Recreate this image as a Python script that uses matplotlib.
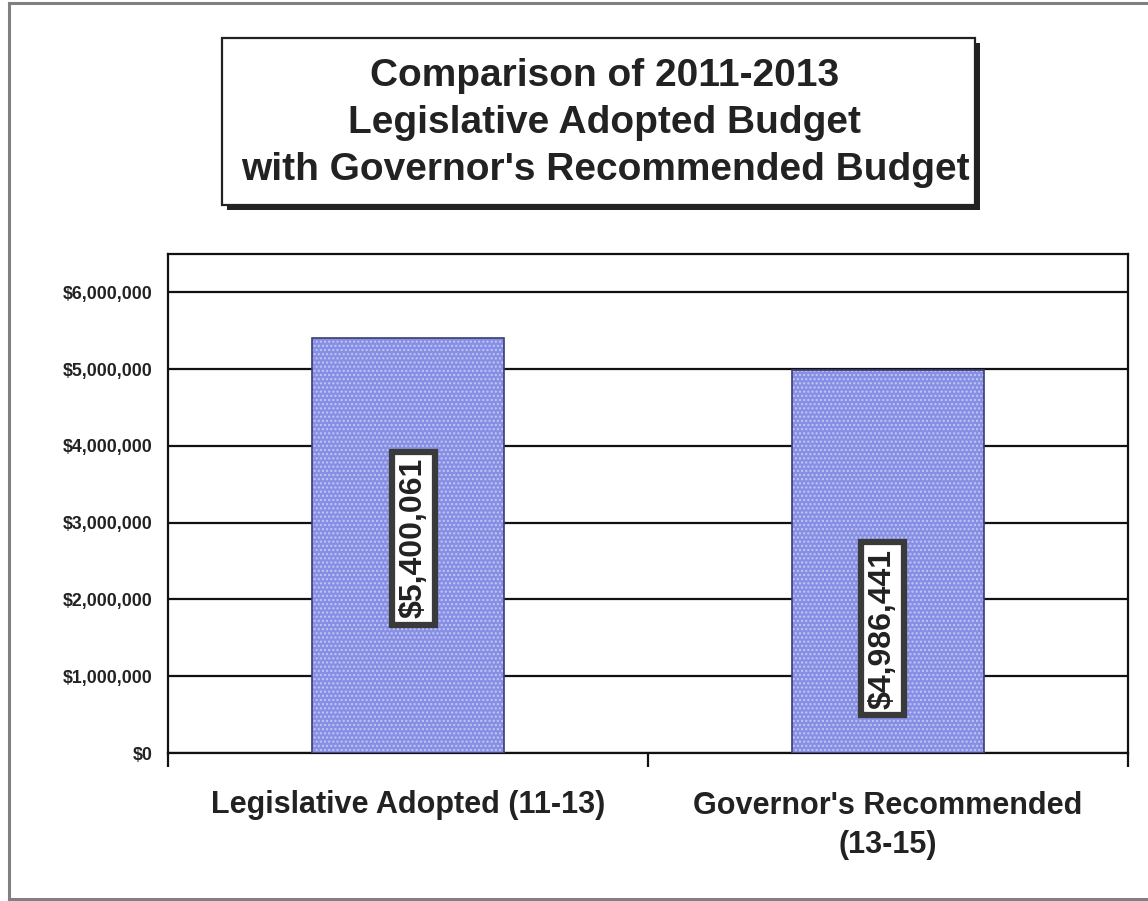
#Comparison of 2011-2013 budget chart

import matplotlib.pyplot as plt
from matplotlib.patches import Rectangle
from matplotlib.lines import Line2D
from matplotlib.ticker import FuncFormatter

plt.rcParams['font.family'] = ['Liberation Sans', 'DejaVu Sans']
plt.rcParams['font.weight'] = 'bold'

#Datos

categories = ["Legislative Adopted (11-13)", "Governor's Recommended\n(13-15)"]
budgets = [5400061, 4986441]
value_labels = ["$5,400,061", "$4,986,441"]
label_heights = [2800000, 1620000]
yticks = [0, 1000000, 2000000, 3000000, 4000000, 5000000, 6000000]
title = "Comparison of 2011-2013\nLegislative Adopted Budget\nwith Governor's Recommended Budget"

#Figura

W, H = 1148, 901
fig = plt.figure(figsize=(W / 100, H / 100), dpi=100)

#marco exterior gris
for xs, ys in [([9, 1150], [3, 3]), ([9, 9], [3, 899]), ([9, 1150], [899, 899])]:
    fig.add_artist(Line2D([x / W for x in xs], [1 - y / H for y in ys], color='#808080', lw=2.2,
                          transform=fig.transFigure))

#caja del titulo con sombra
bx0, by0, bx1, by1 = 222, 38, 975, 205
fig.add_artist(Rectangle((bx0 / W + 5 / W, 1 - by1 / H - 5 / H), (bx1 - bx0) / W, (by1 - by0) / H,
                         transform=fig.transFigure, facecolor='#222222', edgecolor='none', zorder=1))
fig.add_artist(Rectangle((bx0 / W, 1 - by1 / H), (bx1 - bx0) / W, (by1 - by0) / H,
                         transform=fig.transFigure, facecolor='white', edgecolor='#222222', lw=1.6, zorder=2))
fig.text(605 / W, 1 - 123 / H, title, ha='center', va='center', fontsize=28, fontweight='bold',
         color='#222222', linespacing=1.38, zorder=3)

#Ejes

ax = fig.add_axes([168 / W, 1 - 753 / H, (1128 - 168) / W, (753 - 254) / H])
x = range(len(categories))
ax.bar(x, budgets, width=0.4, color='#868fe4', edgecolor='#c3c8f5', hatch='....', linewidth=0, zorder=3)
ax.bar(x, budgets, width=0.4, fill=False, edgecolor='#3a3d70', linewidth=1.2, zorder=4)

ax.set_xlim(-0.5, 1.5)
ax.set_ylim(0, 6500000)
ax.set_yticks(yticks)
ax.yaxis.set_major_formatter(FuncFormatter(lambda v, p: "${:,.0f}".format(v)))
ax.yaxis.grid(True, color='#111111', linewidth=1.6, zorder=1)
ax.set_axisbelow(True)
ax.tick_params(axis='y', length=0, pad=11, labelsize=12.8, labelcolor='#222222')

ax.set_xticks(list(x))
ax.set_xticklabels(categories, linespacing=1.4)
ax.tick_params(axis='x', which='major', length=0, pad=27, labelsize=22, labelcolor='#222222')
ax.set_xticks([-0.5, 0.5, 1.5], minor=True)
ax.tick_params(axis='x', which='minor', length=10, width=1.6, color='#111111', direction='out')
for lbl in ax.get_xticklabels() + ax.get_yticklabels():
    lbl.set_fontweight('bold')

for s in ax.spines.values():
    s.set_color('#111111')
    s.set_linewidth(1.6)

#etiquetas de valor
for i, (txt, h) in enumerate(zip(value_labels, label_heights)):
    ax.text(i + 0.012 * (1 if i == 0 else -1), h, txt, rotation=90, ha='center', va='center',
            fontsize=23, fontweight='bold', color='#222222', zorder=6,
            bbox=dict(boxstyle='square,pad=0.2', facecolor='white', edgecolor='#3a3a3a', linewidth=4.5))

fig.savefig('out.png', dpi=100)
